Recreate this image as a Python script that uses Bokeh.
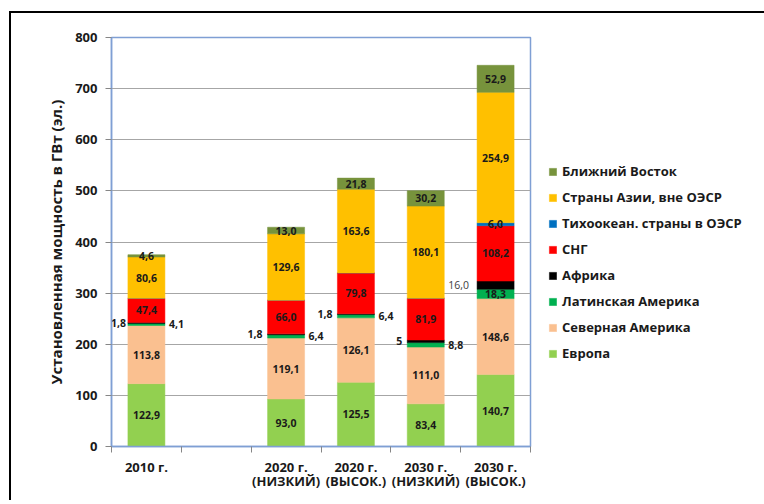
import numpy as np
from bokeh.plotting import figure
from bokeh.models import ColumnDataSource, Legend, LegendItem, FixedTicker, Range1d
from bokeh.core.properties import value
from bokeh.embed import file_html
from bokeh.resources import INLINE

# ---------------- data ----------------
categories = ["2010 г.", "2020 г.\n(НИЗКИЙ)", "2020 г.\n(ВЫСОК.)", "2030 г.\n(НИЗКИЙ)", "2030 г.\n(ВЫСОК.)"]
slots = [0, 2, 3, 4, 5]          # slot 1 is an empty gap on the category axis
n_slots = 6

europe = [122.9, 93.0, 125.5, 83.4, 140.7]
north_america = [113.8, 119.1, 126.1, 111.0, 148.6]
latin_america = [4.1, 6.4, 6.4, 8.8, 18.3]
africa = [1.8, 1.8, 1.8, 5, 16.0]
cis = [47.4, 66.0, 79.8, 81.9, 108.2]
pacific_oecd = [0, 0, 0, 0, 6.0]
asia_non_oecd = [80.6, 129.6, 163.6, 180.1, 254.9]
middle_east = [4.6, 13.0, 21.8, 30.2, 52.9]

series_names = ["Европа", "Северная Америка", "Латинская Америка", "Африка", "СНГ",
                "Тихоокеан. страны в ОЭСР", "Страны Азии, вне ОЭСР", "Ближний Восток"]
series_values = [europe, north_america, latin_america, africa, cis, pacific_oecd, asia_non_oecd, middle_east]
series_colors = ["#92d050", "#fac090", "#00b050", "#000000", "#ff0000", "#0070c0", "#ffc000", "#77933c"]

y_ticks = [0, 100, 200, 300, 400, 500, 600, 700, 800]
y_title = "Установленная мощность в ГВт (эл.)"

# ---------------- figure ----------------
FONT = "Open Sans"
BAR_W = 0.53

p = figure(frame_width=419, frame_height=409, min_border_left=100, min_border_top=24,
           min_border_right=230, min_border_bottom=54,
           x_range=Range1d(0, n_slots), y_range=Range1d(0, 800),
           output_backend="svg", toolbar_location=None)
p.styles = {"border-left": "2px solid black", "border-top": "2px solid black",
            "margin-left": "9px", "margin-top": "11px"}
p.background_fill_color = "white"
p.border_fill_color = "white"
p.outline_line_color = "#7f9fd4"
p.outline_line_width = 1.5

xc = np.array(slots) + 0.5
vals = np.array(series_values, dtype=float)
tops = np.cumsum(vals, axis=0)
bottoms = tops - vals

renderers = []
for i, name in enumerate(series_names):
    src = ColumnDataSource(dict(x=xc, bottom=bottoms[i], top=tops[i]))
    r = p.vbar(x="x", width=BAR_W, bottom="bottom", top="top", source=src,
               fill_color=series_colors[i], line_color=series_colors[i], line_width=0.5)
    renderers.append(r)


def fmt(v):
    return str(v) if isinstance(v, int) else f"{v:.1f}".replace(".", ",")


centers = (bottoms + tops) / 2
ins_x, ins_y, ins_t = [], [], []
for i in [0, 1, 4, 6, 7]:
    for j in range(len(slots)):
        ins_x.append(xc[j]); ins_y.append(centers[i][j]); ins_t.append(fmt(series_values[i][j]))
# small segments of the last bar labelled inside
for i in [2, 5]:
    j = 4
    ins_x.append(xc[j]); ins_y.append(centers[i][j]); ins_t.append(fmt(series_values[i][j]))

lab = dict(text_baseline="middle", text_font=value(FONT), text_font_size="10.5px")
p.text(x="x", y="y", text="text", source=ColumnDataSource(dict(x=ins_x, y=ins_y, text=ins_t)),
       text_align="center", text_font_style="bold", text_color="#1a1a1a", **lab)

# Latin America labels to the right of the bar
la_j = [0, 1, 2, 3]
p.text(x=[xc[j] + BAR_W / 2 for j in la_j], y=[centers[2][j] for j in la_j],
       text=[fmt(latin_america[j]) for j in la_j], x_offset=4,
       text_align="left", text_font_style="bold", text_color="#1a1a1a", **lab)
# Africa labels to the left of the bar
p.text(x=[xc[0] - BAR_W / 2], y=[centers[3][0]], text=[fmt(africa[0])], x_offset=-2,
       text_align="right", text_font_style="bold", text_color="#1a1a1a", **lab)
af_j = [1, 2, 3]
p.text(x=[xc[j] - BAR_W / 2 for j in af_j], y=[centers[3][j] for j in af_j],
       text=[fmt(africa[j]) for j in af_j], x_offset=-5,
       text_align="right", text_font_style="bold", text_color="#1a1a1a", **lab)
p.text(x=[xc[4] - BAR_W / 2], y=[centers[3][4]], text=[fmt(africa[4])], x_offset=-8,
       text_align="right", text_font_style="normal", text_color="#404040", **lab)

# ---------------- axes ----------------
p.xgrid.visible = False
p.ygrid.grid_line_color = "#a6a6a6"
p.ygrid.grid_line_width = 1

p.yaxis.ticker = FixedTicker(ticks=y_ticks)
p.yaxis.axis_line_color = "#7f9fd4"
p.yaxis.axis_line_width = 1.5
p.yaxis.major_tick_line_color = "#868686"
p.yaxis.major_tick_out = 6
p.yaxis.major_tick_in = 0
p.yaxis.minor_tick_line_color = None
p.yaxis.major_label_standoff = 8
p.yaxis.major_label_text_font = FONT
p.yaxis.major_label_text_font_style = "bold"
p.yaxis.major_label_text_font_size = "13px"
p.yaxis.major_label_text_color = "#1a1a1a"
p.yaxis.axis_label = y_title
p.yaxis.axis_label_text_font = FONT
p.yaxis.axis_label_text_font_style = "bold"
p.yaxis.axis_label_text_font_size = "15px"
p.yaxis.axis_label_text_color = "#1a1a1a"
p.yaxis.axis_label_standoff = 6

p.xaxis.ticker = FixedTicker(ticks=list(xc), minor_ticks=list(range(n_slots + 1)))
p.xaxis.major_label_overrides = {float(x): c for x, c in zip(xc, categories)}
p.xaxis.axis_line_color = "#7f9fd4"
p.xaxis.axis_line_width = 1.5
p.xaxis.major_tick_out = 0
p.xaxis.major_tick_in = 0
p.xaxis.minor_tick_out = 6
p.xaxis.minor_tick_in = 0
p.xaxis.minor_tick_line_color = "#868686"
p.xaxis.major_label_standoff = 5
p.xaxis.major_label_text_font = FONT
p.xaxis.major_label_text_font_style = "bold"
p.xaxis.major_label_text_font_size = "13px"
p.xaxis.major_label_text_line_height = 0.78
p.xaxis.major_label_text_color = "#1a1a1a"

# ---------------- legend ----------------
items = [LegendItem(label=n, renderers=[r]) for n, r in reversed(list(zip(series_names, renderers)))]
legend = Legend(items=items, location=(18, 84), padding=0, margin=0,
                glyph_width=9, glyph_height=9, label_height=18, spacing=8, label_standoff=5,
                background_fill_alpha=0, border_line_alpha=0,
                label_text_font=FONT, label_text_font_style="bold",
                label_text_font_size="13px", label_text_color="#1a1a1a")
p.add_layout(legend, "right")

open("out.html", "w").write(file_html(p, INLINE))
